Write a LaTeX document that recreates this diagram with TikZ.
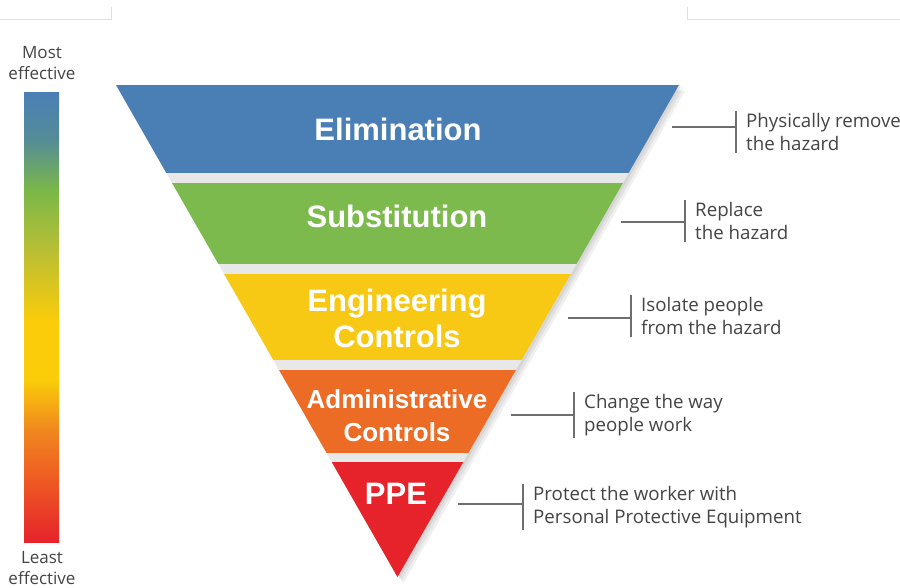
\documentclass[tikz,border=0pt]{standalone}
\usepackage{fontspec}
\setmainfont{Liberation Sans}
\newfontfamily\notefont{Open Sans}
\usetikzlibrary{positioning}
\definecolor{elimblue}{RGB}{74,127,182}
\definecolor{subgreen}{RGB}{125,186,78}
\definecolor{enggold}{RGB}{247,200,20}
\definecolor{admorange}{RGB}{236,108,38}
\definecolor{ppered}{RGB}{230,34,42}
\definecolor{barteal}{RGB}{85,140,150}
\definecolor{bargreen}{RGB}{122,184,72}
\definecolor{barolive}{RGB}{185,190,52}
\definecolor{baryellow}{RGB}{250,204,10}
\definecolor{barorange}{RGB}{240,135,30}
\definecolor{barred}{RGB}{238,90,35}
\definecolor{notegray}{RGB}{68,68,68}
\definecolor{tickgray}{RGB}{110,110,110}
\tikzset{font=\notefont}
\tikzset{band/.style={text=white,font=\bfseries\fontsize{31}{36}\selectfont,align=center}}
\tikzset{note/.style={text=notegray,font=\notefont\fontsize{18.7}{22.5}\selectfont,align=left,anchor=west,inner xsep=0pt,inner ysep=2.5pt}}
\tikzset{scale label/.style={text=notegray,font=\notefont\fontsize{17}{21}\selectfont,align=center}}
\tikzset{tick/.style={draw=tickgray,line width=1.4pt}}

\begin{document}
\begin{tikzpicture}[x=1pt,y=-1pt]
  \useasboundingbox (0,0) rectangle (900,587);
  % page edges
  \draw[gray!25,line width=1pt] (0,19) -- (111,19) -- (111,7);
  \draw[gray!25,line width=1pt] (687,7) -- (687,19) -- (900,19);

  \coordinate (tl) at (116,85);
  \coordinate (tr) at (679,85);
  \coordinate (apex) at (397.5,577);

  % shadow and gaps
  \foreach \s in {2,4,6}
    \fill[black,opacity=0.06] (116+\s,85+\s) -- (679+\s,85+\s) -- (397.5+\s,577+\s) -- cycle;
  \fill[gray!18] (tl) -- (tr) -- (apex) -- cycle;
  \begin{scope}
    \clip (tl) -- (tr) -- (apex) -- cycle;
    \foreach \ya/\yb/\col in {85/173/elimblue,183/264/subgreen,274/360/enggold,370/453/admorange,462/577/ppered}
      \fill[\col] (100,\ya) rectangle (700,\yb);
  \end{scope}

  \node[band] (elim) at (398,129) {Elimination};
  \node[band] (subst) at (397,216) {Substitution};
  \node[band] (eng) at (397,318) {Engineering\\Controls};
  \node[band,font=\bfseries\fontsize{26}{33}\selectfont] (admin) at (397,416) {Administrative\\Controls};
  \node[band] (ppe) at (396,494) {PPE};

  % effectiveness bar
  \foreach \ya/\yb/\ca/\cb in {92/140/elimblue/barteal,140/190/barteal/bargreen,190/250/bargreen/barolive,250/320/barolive/baryellow,320/380/baryellow/baryellow,380/430/baryellow/barorange,430/480/barorange/barred,480/542/barred/ppered}
    \shade[top color=\ca,bottom color=\cb] (24,\ya) rectangle (59,\yb+0.5);
  \node[scale label] (most) at (42,63) {Most\\effective};
  \node[scale label] (least) at (42,568) {Least\\effective};

  \node[note] (n1) at (746,132) {Physically remove\\the hazard};
  \node[note] (n2) at (695,221) {Replace\\the hazard};
  \node[note] (n3) at (641,316) {Isolate people\\from the hazard};
  \node[note] (n4) at (584,415) {Change the way\\people work};
  \node[note] (n5) at (533,507) {Protect the worker with\\Personal Protective Equipment};

  \foreach \i/\x/\y in {1/672/127,2/621/222,3/568/318,4/511/415,5/458/504}
  {
    \coordinate (h\i) at (\x,\y);
    \coordinate (b\i) at ([xshift=-10pt]n\i.west);
    \draw[tick] ([xshift=-10pt]n\i.north west) -- ([xshift=-10pt]n\i.south west);
    \draw[tick] (h\i) -- (h\i -| b\i);
  }
\end{tikzpicture}
\end{document}
